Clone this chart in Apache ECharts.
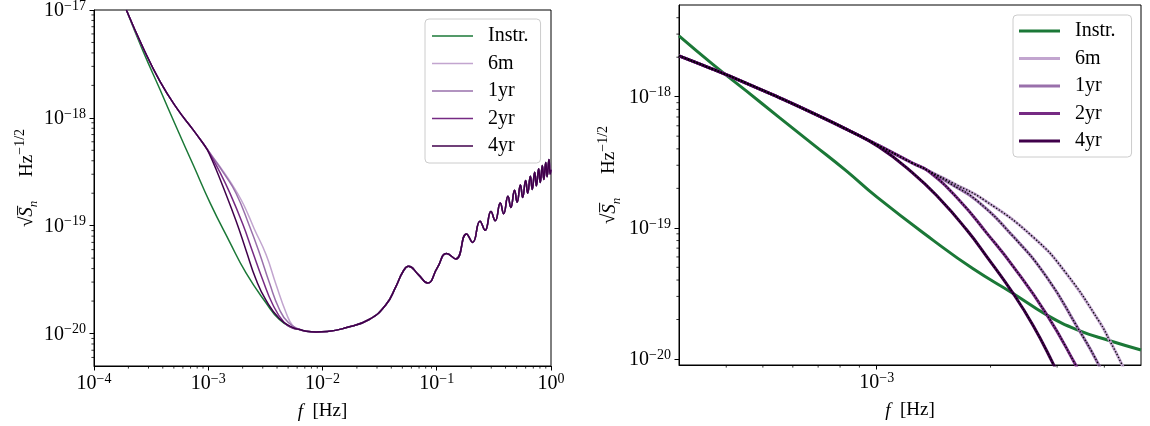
<!DOCTYPE html>
<html><head><meta charset="utf-8">
<script src="https://cdn.jsdelivr.net/npm/echarts@6/dist/echarts.min.js"></script>
<style>html,body{margin:0;padding:0;background:#fff}#c{width:1150px;height:426px}</style>
</head><body><div id="c"></div>
<script>
// ---------- legend / categories ----------
const seriesNames = ['Instr.', '6m', '1yr', '2yr', '4yr'];

// ---------- LEFT PANEL data: [f (Hz), sqrt(Sn)] ----------
const leftInstrLow = [
  [1.92e-4, 1.0e-17], [2.70e-4, 4.11e-18], [3.79e-4, 1.82e-18], [5.30e-4, 8.04e-19],
  [7.41e-4, 3.63e-19], [1.04e-3, 1.62e-19], [1.53e-3, 7.16e-20], [2.14e-3, 3.65e-20],
  [3.21e-3, 1.92e-20], [4.19e-3, 1.35e-20], [5.47e-3, 1.13e-20]
];
const leftTotalLow = [
  [1.92e-4, 1.0e-17], [2.70e-4, 4.42e-18], [3.79e-4, 2.17e-18], [5.30e-4, 1.23e-18],
  [7.41e-4, 7.7e-19], [9.06e-4, 5.75e-19]
];
const left6mMid = [
  [9.6e-4, 5.28e-19], [1.10e-3, 4.32e-19], [1.35e-3, 3.20e-19], [1.62e-3, 2.40e-19],
  [1.94e-3, 1.74e-19], [2.24e-3, 1.26e-19], [2.53e-3, 9.33e-20], [3.21e-3, 5.37e-20],
  [3.92e-3, 2.85e-20], [4.80e-3, 1.56e-20], [5.47e-3, 1.19e-20]
];
const left1yrMid = [
  [9.6e-4, 5.28e-19], [1.02e-3, 4.81e-19], [1.38e-3, 3.02e-19], [1.75e-3, 2.0e-19],
  [2.29e-3, 1.0e-19], [2.80e-3, 5.62e-20], [3.43e-3, 2.95e-20], [4.19e-3, 1.68e-20],
  [5.00e-3, 1.27e-20]
];
const left2yrMid = [
  [9.6e-4, 5.27e-19], [1.02e-3, 4.75e-19], [1.27e-3, 3.10e-19], [1.53e-3, 2.06e-19],
  [2.00e-3, 1.04e-19], [2.44e-3, 5.77e-20], [2.99e-3, 3.17e-20], [3.66e-3, 1.87e-20],
  [4.60e-3, 1.27e-20], [5.47e-3, 1.125e-20]
];
const left4yrMid = [
  [9.6e-4, 5.25e-19], [1.02e-3, 4.65e-19], [1.17e-3, 3.34e-19], [1.34e-3, 2.33e-19],
  [1.75e-3, 1.11e-19], [2.14e-3, 5.93e-20], [2.62e-3, 3.17e-20], [3.21e-3, 2.03e-20],
  [4.19e-3, 1.38e-20], [5.47e-3, 1.14e-20]
];
const leftTail = [
  [6.3e-3, 1.09e-20], [7.2e-3, 1.05e-20], [8.8e-3, 1.035e-20], [1.1e-2, 1.045e-20],
  [1.6e-2, 1.13e-20], [2.56e-2, 1.35e-20], [3.6e-2, 1.86e-20], [4.4e-2, 2.74e-20],
  [5.1e-2, 3.8e-20], [5.66e-2, 4.2e-20], [6.9e-2, 3.52e-20], [8.3e-2, 2.94e-20],
  [0.101, 4.06e-20], [0.122, 5.51e-20], [0.147, 4.92e-20], [0.182, 8.38e-20],
  [0.206, 7.0e-20], [0.239, 1.10e-19], [0.265, 9.06e-20], [0.298, 1.355e-19],
  [0.325, 1.11e-19], [0.36, 1.62e-19], [0.385, 1.29e-19], [0.42, 1.875e-19],
  [0.445, 1.475e-19], [0.48, 2.13e-19], [0.505, 1.65e-19], [0.54, 2.38e-19],
  [0.565, 1.83e-19], [0.60, 2.63e-19], [0.625, 2.0e-19], [0.66, 2.88e-19],
  [0.685, 2.17e-19], [0.72, 3.13e-19], [0.745, 2.34e-19], [0.78, 3.37e-19],
  [0.805, 2.51e-19], [0.84, 3.61e-19], [0.865, 2.68e-19], [0.90, 3.86e-19],
  [0.925, 2.85e-19], [0.96, 4.10e-19], [0.985, 3.01e-19], [1.0, 3.3e-19]
];

// ---------- RIGHT PANEL data ----------
const rightInstr = [
  [3.0e-4, 2.91e-18], [3.68e-4, 1.773e-18], [4.51e-4, 1.111e-18], [5.52e-4, 6.96e-19],
  [6.76e-4, 4.37e-19], [8.28e-4, 2.74e-19], [1.0e-3, 1.72e-19], [1.411e-3, 8.03e-20],
  [1.799e-3, 4.87e-20], [2.295e-3, 3.16e-20], [2.821e-3, 2.16e-20], [3.404e-3, 1.66e-20],
  [4.135e-3, 1.377e-20], [5.0e-3, 1.171e-20]
];
const rightTotalLow = [
  [3.0e-4, 2.05e-18], [3.68e-4, 1.624e-18], [4.51e-4, 1.271e-18], [5.52e-4, 9.83e-19],
  [6.76e-4, 7.52e-19], [8.28e-4, 5.68e-19]
];
const right6mMid = [
  [1.014e-3, 4.24e-19], [1.242e-3, 3.12e-19], [1.374e-3, 2.71e-19], [1.609e-3, 2.16e-19],
  [1.932e-3, 1.618e-19], [2.592e-3, 8.51e-20], [3.175e-3, 4.48e-20], [3.886e-3, 1.91e-20],
  [4.135e-3, 1.377e-20], [4.437e-3, 9.27e-21], [4.608e-3, 7.17e-21]
];
const right1yrMid = [
  [1.014e-3, 4.24e-19], [1.242e-3, 3.12e-19], [1.374e-3, 2.71e-19], [1.580e-3, 2.14e-19],
  [1.837e-3, 1.618e-19], [2.295e-3, 8.61e-20], [2.817e-3, 4.20e-20], [3.381e-3, 1.78e-20],
  [3.847e-3, 9.27e-21], [4.006e-3, 6.92e-21]
];
const right2yrMid = [
  [1.014e-3, 4.24e-19], [1.242e-3, 3.12e-19], [1.374e-3, 2.69e-19], [1.660e-3, 1.604e-19],
  [1.952e-3, 9.16e-20], [2.295e-3, 5.09e-20], [2.817e-3, 2.18e-20], [3.340e-3, 9.27e-21],
  [3.483e-3, 7.17e-21]
];
const right4yrMid = [
  [1.014e-3, 4.13e-19], [1.242e-3, 2.64e-19], [1.469e-3, 1.66e-19], [1.729e-3, 9.66e-20],
  [1.952e-3, 6.07e-20], [2.295e-3, 3.16e-20], [2.592e-3, 1.80e-20], [2.925e-3, 9.27e-21],
  [3.048e-3, 7.17e-21]
];

// ---------- minor tick positions ----------
const leftMinorX = [2e-4,3e-4,4e-4,5e-4,6e-4,7e-4,8e-4,9e-4, 2e-3,3e-3,4e-3,5e-3,6e-3,7e-3,8e-3,9e-3,
  2e-2,3e-2,4e-2,5e-2,6e-2,7e-2,8e-2,9e-2, 0.2,0.3,0.4,0.5,0.6,0.7,0.8,0.9];
const leftMinorY = [6e-21,7e-21,8e-21,9e-21, 2e-20,3e-20,4e-20,5e-20,6e-20,7e-20,8e-20,9e-20,
  2e-19,3e-19,4e-19,5e-19,6e-19,7e-19,8e-19,9e-19, 2e-18,3e-18,4e-18,5e-18,6e-18,7e-18,8e-18,9e-18];
const rightMinorX = [4e-4,5e-4,6e-4,7e-4,8e-4,9e-4, 2e-3,3e-3,4e-3];
const rightMinorY = [2e-20,3e-20,4e-20,5e-20,6e-20,7e-20,8e-20,9e-20,
  2e-19,3e-19,4e-19,5e-19,6e-19,7e-19,8e-19,9e-19, 2e-18,3e-18,4e-18];

// ---------- axis ranges ----------
const L = {xmin: 1e-4, xmax: 1, ymin: 5e-21, ymax: 1e-17};
const R = {xmin: 3e-4, xmax: 5e-3, ymin: 9e-21, ymax: 5e-18};

const colors = {'Instr.': '#1b7837', '6m': '#c2a5cf', '1yr': '#9970ab', '2yr': '#762a83', '4yr': '#40004b'};
const FONT = '"Liberation Serif", "DejaVu Serif", serif';
const FS = 19;
const TF = 20;

const leftData = {
  'Instr.': leftInstrLow.concat(leftTail),
  '6m': leftTotalLow.concat(left6mMid, leftTail),
  '1yr': leftTotalLow.concat(left1yrMid, leftTail),
  '2yr': leftTotalLow.concat(left2yrMid, leftTail),
  '4yr': leftTotalLow.concat(left4yrMid, leftTail)
};
const rightData = {
  'Instr.': rightInstr,
  '6m': rightTotalLow.concat(right6mMid),
  '1yr': rightTotalLow.concat(right1yrMid),
  '2yr': rightTotalLow.concat(right2yrMid),
  '4yr': rightTotalLow.concat(right4yrMid)
};

function expLabel(v) {
  const e = Math.round(Math.log10(v));
  return '{b|10}{s|' + (e < 0 ? '\u2212' + (-e) : String(e)) + '}';
}
const labelRich = {
  b: {fontSize: TF, fontFamily: FONT, color: '#000', verticalAlign: 'bottom'},
  s: {fontSize: 14, fontFamily: FONT, color: '#000', verticalAlign: 'bottom', padding: [0, 0, 8, 0]}
};
const NF = 19;
const nameRich = {
  r: {fontSize: NF, fontFamily: FONT, color: '#000', verticalAlign: 'bottom', padding: [0, 0, 4, 0]},
  i: {fontSize: NF, fontFamily: FONT, fontStyle: 'italic', color: '#000', verticalAlign: 'bottom', padding: [0, 0, 4, 0]},
  sub: {fontSize: 13, fontFamily: FONT, fontStyle: 'italic', color: '#000', verticalAlign: 'bottom', padding: [0, 0, 0, 0]},
  sup: {fontSize: 14, fontFamily: FONT, color: '#000', verticalAlign: 'bottom', padding: [0, 0, 13, 0]}
};
const xRich = {
  r: {fontSize: FS, fontFamily: FONT, color: '#000'},
  i: {fontSize: FS, fontFamily: FONT, fontStyle: 'italic', color: '#000'}
};
const yName = '{r|\u221A}{i|S\u0305}{sub|n}{r|\u2003 Hz}{sup|\u22121/2}';
const xName = '{i|f}{r|  [Hz]}';

function axisCommon() {
  return {
    type: 'log', logBase: 10,
    axisLine: {show: true, onZero: false, lineStyle: {color: '#000', width: 1}},
    axisTick: {show: true, length: 4.5, lineStyle: {color: '#000', width: 1}},
    splitLine: {show: false},
    minorTick: {show: false}
  };
}

function lineSeries(name, data, color, width, gi, z) {
  return {
    type: 'line', name: name, data: data, xAxisIndex: gi, yAxisIndex: gi,
    showSymbol: false, symbol: 'none', smooth: 0.5, clip: true, silent: true, z: z,
    lineStyle: {color: color, width: width}, itemStyle: {color: color},
    emphasis: {disabled: true}, animation: false
  };
}
function dottedSeries(data, gi) {
  return {
    type: 'line', data: data, xAxisIndex: gi, yAxisIndex: gi,
    showSymbol: false, symbol: 'none', smooth: 0.5, clip: true, silent: true, z: 20,
    lineStyle: {color: '#000', width: 1.4, type: [1.3, 1.9]},
    emphasis: {disabled: true}, animation: false
  };
}
function minorXSeries(vals, gi, yBase) {
  return {
    type: 'custom', xAxisIndex: gi, yAxisIndex: gi, silent: true, z: 30, animation: false,
    data: vals.map(v => [v, yBase]),
    renderItem: (params, api) => {
      const p = api.coord([api.value(0), api.value(1)]);
      return {type: 'line', shape: {x1: p[0], y1: p[1], x2: p[0], y2: p[1] + 2.6},
              style: {stroke: '#000', lineWidth: 0.8}};
    }
  };
}
function minorYSeries(vals, gi, xBase) {
  return {
    type: 'custom', xAxisIndex: gi, yAxisIndex: gi, silent: true, z: 30, animation: false,
    data: vals.map(v => [xBase, v]),
    renderItem: (params, api) => {
      const p = api.coord([api.value(0), api.value(1)]);
      return {type: 'line', shape: {x1: p[0] - 2.6, y1: p[1], x2: p[0], y2: p[1]},
              style: {stroke: '#000', lineWidth: 0.8}};
    }
  };
}

const series = [];
seriesNames.forEach((n, k) => series.push(lineSeries(n, leftData[n], colors[n], 1.5, 0, 2 + k)));
seriesNames.forEach((n, k) => series.push(lineSeries('R:' + n, rightData[n], colors[n], 3, 1, 2 + k)));
['6m', '1yr', '2yr', '4yr'].forEach(n => series.push(dottedSeries(rightData[n], 1)));
series.push(minorXSeries(leftMinorX, 0, L.ymin));
series.push(minorYSeries(leftMinorY, 0, L.xmin));
series.push(minorXSeries(rightMinorX, 1, R.ymin));
series.push(minorYSeries(rightMinorY, 1, R.xmin));

const legendCommon = {
  orient: 'vertical', itemWidth: 41, itemGap: 7.5, icon: 'rect',
  backgroundColor: 'rgba(255,255,255,0.8)', borderColor: '#cccccc', borderWidth: 1, borderRadius: 4,
  textStyle: {fontFamily: FONT, fontSize: TF, color: '#000', padding: [0, 0, 0, 10]},
  selectedMode: false
};

const option = {
  animation: false,
  backgroundColor: '#fff',
  grid: [
    {left: 94, top: 10, width: 457, height: 356, show: true, borderColor: '#000', borderWidth: 1, containLabel: false, outerBoundsMode: 'none'},
    {left: 679, top: 5, width: 462, height: 360, show: true, borderColor: '#000', borderWidth: 1, containLabel: false, outerBoundsMode: 'none'}
  ],
  xAxis: [
    Object.assign(axisCommon(), {gridIndex: 0, min: L.xmin, max: L.xmax,
      axisLabel: {formatter: expLabel, rich: labelRich, margin: 6},
      name: xName, nameLocation: 'middle', nameGap: 36, nameTextStyle: {fontSize: FS, fontFamily: FONT, color: '#000', rich: xRich}}),
    Object.assign(axisCommon(), {gridIndex: 1, min: R.xmin, max: R.xmax,
      axisLabel: {formatter: expLabel, rich: labelRich, margin: 6, showMinLabel: false, showMaxLabel: false},
      name: xName, nameLocation: 'middle', nameGap: 36, nameTextStyle: {fontSize: FS, fontFamily: FONT, color: '#000', rich: xRich}})
  ],
  yAxis: [
    Object.assign(axisCommon(), {gridIndex: 0, min: L.ymin, max: L.ymax,
      axisLabel: {formatter: expLabel, rich: labelRich, margin: 8, showMinLabel: false},
      name: yName, nameLocation: 'middle', nameRotate: 90, nameGap: 52,
      nameTextStyle: {fontSize: NF, fontFamily: FONT, color: '#000', rich: nameRich, padding: [0, 0, 0, 20]}}),
    Object.assign(axisCommon(), {gridIndex: 1, min: R.ymin, max: R.ymax,
      axisLabel: {formatter: expLabel, rich: labelRich, margin: 8, showMinLabel: false, showMaxLabel: false},
      name: yName, nameLocation: 'middle', nameRotate: 90, nameGap: 56,
      nameTextStyle: {fontSize: NF, fontFamily: FONT, color: '#000', rich: nameRich, padding: [0, 0, 0, 20]}})
  ],
  legend: [
    Object.assign({}, legendCommon, {data: seriesNames, left: 425, top: 19, itemHeight: 1.6, padding: [7, 12, 7, 7]}),
    Object.assign({}, legendCommon, {data: seriesNames.map(n => 'R:' + n), left: 1013, top: 15, itemHeight: 3.2, itemGap: 7.5,
      padding: [6, 16, 6, 6], formatter: n => n.slice(2)})
  ],
  series: series
};

const chart = echarts.init(document.getElementById('c'), null, {renderer: 'canvas', width: 1150, height: 426});
chart.setOption(option);
</script>
</body></html>
